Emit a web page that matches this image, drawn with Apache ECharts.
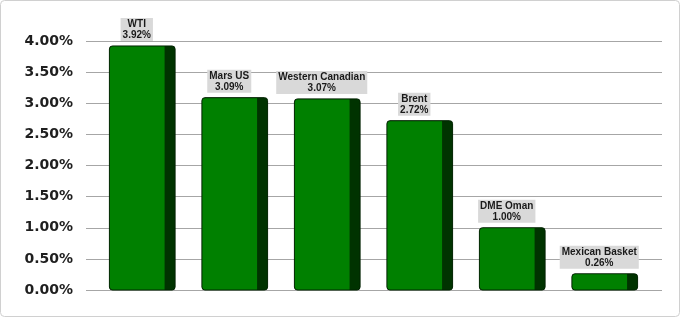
<!DOCTYPE html>
<html><head><meta charset="utf-8">
<script src="https://cdn.jsdelivr.net/npm/echarts@6/dist/echarts.min.js"></script>
<style>html,body{margin:0;padding:0;background:#fff}#c{width:680px;height:317px}</style>
</head><body><div id="c"></div>
<script>
const categories = ['WTI','Mars US','Western Canadian','Brent','DME Oman','Mexican Basket'];
const values = [3.92, 3.09, 3.07, 2.72, 1.00, 0.26];
const yTicks = [0, 0.5, 1, 1.5, 2, 2.5, 3, 3.5, 4];

const chart = echarts.init(document.getElementById('c'), null, {renderer:'canvas'});
const data = values.map((v,i)=>[i,v]);
chart.setOption({
  animation:false,
  backgroundColor:'#fff',
  graphic:[{type:'rect',shape:{x:0.5,y:0.5,width:679,height:316,r:4},style:{fill:'none',stroke:'#d0d0d0',lineWidth:1},z:-10}],
  grid:[
    {left:86,right:18,top:41,bottom:27},
    {left:96,right:29,top:41,bottom:27}
  ],
  xAxis:[
    {gridIndex:0,type:'category',data:categories,show:false},
    {gridIndex:1,type:'category',data:categories,show:false}
  ],
  yAxis:[
    {gridIndex:0,type:'value',min:yTicks[0],max:yTicks[yTicks.length-1],interval:0.5,
     axisLine:{show:false},axisTick:{show:false},
     splitLine:{lineStyle:{color:'#a6a6a6',width:1}},
     axisLabel:{margin:13,formatter:v=>v.toFixed(2)+'%',fontFamily:'DejaVu Sans',fontWeight:'bold',fontSize:14,color:'#1f1f1f'}},
    {gridIndex:1,type:'value',min:0,max:4,interval:0.5,show:false}
  ],
  series:[{
    type:'custom',xAxisIndex:1,yAxisIndex:1,data:data,
    renderItem:function(params,api){
      const idx=api.value(0), v=api.value(1);
      const top=api.coord([idx,v]);
      const base=api.coord([idx,0]);
      const w=api.size([1,0])[0]*0.71;
      const x=top[0]-w/2, h=base[1]-top[1];
      const side=11;
      return {type:'group',children:[
        {type:'rect',shape:{x:x,y:top[1],width:w,height:h,r:3},style:{fill:'#003300',stroke:'#002200',lineWidth:1}},
        {type:'rect',shape:{x:x+0.5,y:top[1]+0.5,width:w-side,height:h-1,r:[3,0,0,3]},style:{fill:'#008000'}},
        {type:'text',x:x+(w-side)/2,y:top[1]-5,style:{
          text:categories[idx]+'\n'+v.toFixed(2)+'%',
          align:'center',verticalAlign:'bottom',
          fontFamily:'Liberation Sans',fontWeight:'bold',fontSize:10,lineHeight:11,
          fill:'#1a1a1a',backgroundColor:'#d9d9d9',padding:[1,2,0,2]}}
      ]};
    }
  }]
});
</script></body></html>
